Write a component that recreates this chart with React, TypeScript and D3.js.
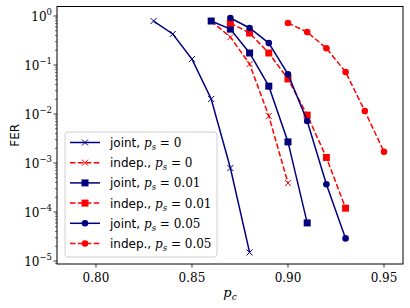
import React from 'react';
import * as d3 from 'd3';

// p_c values shared by the curves
const pcJoint0 = [0.83, 0.84, 0.85, 0.86, 0.87, 0.88];
const ferJoint0 = [0.79, 0.43, 0.132, 0.0203, 7.9e-4, 1.5e-5];

const pcIndep0 = [0.86, 0.87, 0.88, 0.89, 0.90];
const ferIndep0 = [0.79, 0.37, 0.105, 0.0091, 3.9e-4];

const pcJoint01 = [0.86, 0.87, 0.88, 0.89, 0.90, 0.91];
const ferJoint01 = [0.79, 0.54, 0.176, 0.037, 0.0027, 6.0e-5];

const pcIndep01 = [0.87, 0.88, 0.89, 0.90, 0.91, 0.92, 0.93];
const ferIndep01 = [0.72, 0.45, 0.176, 0.052, 0.0095, 0.0013, 1.2e-4];

const pcJoint05 = [0.87, 0.88, 0.89, 0.90, 0.91, 0.92, 0.93];
const ferJoint05 = [0.91, 0.57, 0.28, 0.065, 0.0072, 3.7e-4, 2.9e-5];

const pcIndep05 = [0.90, 0.91, 0.92, 0.93, 0.94, 0.95];
const ferIndep05 = [0.72, 0.47, 0.22, 0.072, 0.0115, 0.0017];

const xTicks = [0.8, 0.85, 0.9, 0.95];
const yExponents = [0, -1, -2, -3, -4, -5];
const psLabels = ['0', '0', '0.01', '0.01', '0.05', '0.05'];

const NAVY = '#000080';
const RED = '#ff0000';

const series = [
  { name: 'joint,', ps: psLabels[0], x: pcJoint0, y: ferJoint0, color: NAVY, dash: false, marker: 'x' },
  { name: 'indep.,', ps: psLabels[1], x: pcIndep0, y: ferIndep0, color: RED, dash: true, marker: 'x' },
  { name: 'joint,', ps: psLabels[2], x: pcJoint01, y: ferJoint01, color: NAVY, dash: false, marker: 's' },
  { name: 'indep.,', ps: psLabels[3], x: pcIndep01, y: ferIndep01, color: RED, dash: true, marker: 's' },
  { name: 'joint,', ps: psLabels[4], x: pcJoint05, y: ferJoint05, color: NAVY, dash: false, marker: 'o' },
  { name: 'indep.,', ps: psLabels[5], x: pcIndep05, y: ferIndep05, color: RED, dash: true, marker: 'o' },
];

const W = 410;
const H = 308;
const plot = { left: 57, right: 403, top: 6.5, bottom: 264 };

const Marker: React.FC<{ kind: string; cx: number; cy: number; color: string }> = ({ kind, cx, cy, color }) => {
  if (kind === 'x') {
    const r = 3;
    return (
      <path
        d={`M${cx - r},${cy - r}L${cx + r},${cy + r}M${cx - r},${cy + r}L${cx + r},${cy - r}`}
        stroke={color}
        strokeWidth={1}
        fill="none"
      />
    );
  }
  if (kind === 's') {
    const r = 3.5;
    return <rect x={cx - r} y={cy - r} width={2 * r} height={2 * r} fill={color} />;
  }
  return <circle cx={cx} cy={cy} r={3.3} fill={color} />;
};

const App: React.FC = () => {
  const x = d3.scaleLinear().domain([0.7797, 0.9599]).range([plot.left, plot.right]);
  const y = d3.scaleLog().domain([Math.pow(10, -5.06), Math.pow(10, 0.194)]).range([plot.bottom, plot.top]);

  const line = d3.line<[number, number]>()
    .x(d => x(d[0]))
    .y(d => y(d[1]));

  // minor ticks for the log axis
  const minorTicks: number[] = [];
  for (let e = -6; e <= 0; e++) {
    for (let m = 2; m <= 9; m++) {
      const v = m * Math.pow(10, e);
      const py = y(v);
      if (py >= plot.top && py <= plot.bottom) minorTicks.push(v);
    }
  }

  const serif = '"DejaVu Serif", serif';
  const sans = '"DejaVu Sans", sans-serif';

  // legend layout
  const lg = { x: 65, y: 132, w: 152, h: 125, row: 20.2 };

  return (
    <svg width={W} height={H} style={{ position: 'absolute', left: 0, top: 0 }}>
      <rect x={0} y={0} width={W} height={H} fill="#fff" />

      <defs>
        <clipPath id="plotclip">
          <rect x={plot.left} y={plot.top} width={plot.right - plot.left} height={plot.bottom - plot.top} />
        </clipPath>
      </defs>

      {/* curves */}
      <g clipPath="url(#plotclip)">
        {series.map((s, i) => {
          const pts = s.x.map((v, j) => [v, s.y[j]] as [number, number]);
          return (
            <g key={i}>
              <path
                d={line(pts) || ''}
                fill="none"
                stroke={s.color}
                strokeWidth={1.5}
                strokeDasharray={s.dash ? '5.5,2.4' : undefined}
              />
              {pts.map((p, j) => (
                <Marker key={j} kind={s.marker} cx={x(p[0])} cy={y(p[1])} color={s.color} />
              ))}
            </g>
          );
        })}
      </g>

      {/* frame */}
      <rect
        x={plot.left}
        y={plot.top}
        width={plot.right - plot.left}
        height={plot.bottom - plot.top}
        fill="none"
        stroke="#000"
        strokeWidth={1}
      />

      {/* x axis */}
      {xTicks.map(t => (
        <g key={t}>
          <line x1={x(t)} x2={x(t)} y1={plot.bottom} y2={plot.bottom + 3.5} stroke="#000" strokeWidth={0.8} />
          <text x={x(t)} y={plot.bottom + 18} textAnchor="middle" fontFamily={serif} fontSize={12} fill="#000">
            {t.toFixed(2)}
          </text>
        </g>
      ))}
      <text x={(plot.left + plot.right) / 2} y={297} textAnchor="middle" fontFamily={serif} fontSize={13} fontStyle="italic">
        p<tspan fontSize={9} dy={3}>c</tspan>
      </text>

      {/* y axis */}
      {yExponents.map(e => {
        const py = y(Math.pow(10, e));
        return (
          <g key={e}>
            <line x1={plot.left - 3.5} x2={plot.left} y1={py} y2={py} stroke="#000" strokeWidth={0.8} />
            <text x={plot.left - 5} y={py + 5} textAnchor="end" fontFamily={serif} fontSize={12} fill="#000">
              10
              <tspan fontSize={8.5} dy={-6}>{e === 0 ? '0' : `\u2212${-e}`}</tspan>
            </text>
          </g>
        );
      })}
      {minorTicks.map((v, i) => (
        <line key={i} x1={plot.left - 2} x2={plot.left} y1={y(v)} y2={y(v)} stroke="#000" strokeWidth={0.6} />
      ))}
      <text
        transform={`translate(19,${(plot.top + plot.bottom) / 2}) rotate(-90)`}
        textAnchor="middle"
        fontFamily={sans}
        fontSize={12}
      >
        FER
      </text>

      {/* legend */}
      <rect x={lg.x} y={lg.y} width={lg.w} height={lg.h} rx={3} fill="#fff" fillOpacity={0.8} stroke="#d0d0d0" strokeWidth={1} />
      {series.map((s, i) => {
        const cy = lg.y + 10.5 + i * lg.row;
        return (
          <g key={i}>
            <line
              x1={lg.x + 5}
              x2={lg.x + 35}
              y1={cy}
              y2={cy}
              stroke={s.color}
              strokeWidth={1.5}
              strokeDasharray={s.dash ? '5.5,2.4' : undefined}
            />
            <Marker kind={s.marker} cx={lg.x + 20} cy={cy} color={s.color} />
            <text x={lg.x + 45} y={cy + 4.5} fontFamily={sans} fontSize={12} fill="#000">
              {s.name}{' '}
              <tspan fontFamily={serif} fontStyle="italic">p</tspan>
              <tspan fontFamily={serif} fontStyle="italic" fontSize={8.5} dy={3}>s</tspan>
              <tspan fontFamily={serif} dy={-3}>{` = ${s.ps}`}</tspan>
            </text>
          </g>
        );
      })}
    </svg>
  );
};

export default App;
